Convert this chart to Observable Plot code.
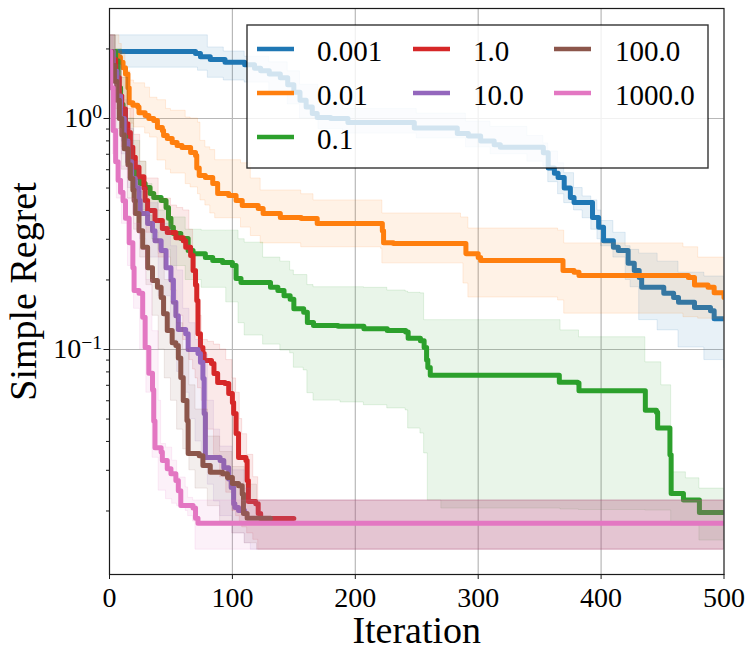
<!DOCTYPE html>
<html><head><meta charset="utf-8">
<script src="https://cdn.jsdelivr.net/npm/d3@7"></script>
<script src="https://cdn.jsdelivr.net/npm/@observablehq/plot@0.6"></script>
<style>body{margin:0;background:#fff}#chart{width:753px;height:658px;position:relative}#chart svg text{font-family:'Liberation Serif','DejaVu Serif',serif}</style>
</head><body><div id="chart"></div>
<script>
// ---- data: [iteration, median simple regret] (step changes) ----
const s0001 = [[0,1.95],[70,1.91],[74,1.85],[82,1.80],[94,1.75],[110,1.71],[118,1.65],[123,1.61],[130,1.56],[139,1.50],[145,1.40],[150,1.30],[155,1.20],[160,1.12],[165,1.05],[169,1.01],[180,1.00],[194,0.96],[248,0.91],[283,0.86],[292,0.84],[302,0.80],[313,0.77],[318,0.75],[353,0.71],[357,0.61],[362,0.58],[365,0.555],[370,0.50],[375,0.455],[378,0.433],[393,0.373],[398,0.338],[402,0.296],[410,0.277],[414,0.268],[422,0.236],[427,0.22],[431,0.205],[433,0.186],[451,0.175],[459,0.168],[463,0.16],[476,0.152],[489,0.147],[492,0.136],[500,0.136]];
const s001 = [[0,1.95],[5,1.88],[7,1.84],[9,1.75],[11,1.66],[13,1.56],[15,1.36],[16,1.17],[19,1.14],[23,1.12],[24,1.06],[29,1.03],[32,1.00],[36,0.98],[39,0.914],[43,0.887],[44,0.844],[47,0.819],[51,0.787],[55,0.764],[59,0.749],[66,0.713],[70,0.691],[71,0.61],[73,0.566],[78,0.555],[84,0.523],[88,0.473],[97,0.464],[103,0.442],[108,0.42],[121,0.408],[125,0.388],[139,0.373],[156,0.369],[169,0.351],[222,0.327],[223,0.29],[231,0.288],[290,0.26],[300,0.25],[302,0.243],[369,0.22],[378,0.216],[382,0.209],[471,0.205],[476,0.19],[487,0.186],[492,0.176],[500,0.168]];
const s01 = [[0,1.95],[5,1.78],[7,1.36],[9,1.15],[11,0.98],[13,0.86],[15,0.75],[17,0.68],[19,0.614],[21,0.555],[25,0.523],[29,0.503],[33,0.473],[36,0.455],[42,0.442],[46,0.412],[48,0.37],[50,0.338],[52,0.318],[58,0.302],[64,0.268],[68,0.26],[78,0.25],[84,0.243],[92,0.238],[100,0.231],[103,0.203],[107,0.195],[131,0.186],[137,0.18],[142,0.171],[147,0.165],[150,0.150],[158,0.145],[161,0.131],[166,0.127],[186,0.126],[207,0.123],[226,0.121],[241,0.119],[243,0.112],[253,0.109],[256,0.102],[258,0.09],[259,0.0835],[261,0.0774],[365,0.0774],[366,0.0722],[381,0.0716],[382,0.0663],[435,0.0663],[436,0.0546],[445,0.0535],[446,0.0457],[455,0.0457],[456,0.035],[457,0.0238],[467,0.0223],[480,0.0197],[500,0.0197]];
const s1 = [[0,1.95],[2,1.8],[5,1.5],[8,1.25],[10,1.1],[13,0.95],[15,0.87],[17,0.75],[19,0.68],[21,0.615],[24,0.56],[28,0.5],[29,0.442],[31,0.40],[37,0.362],[43,0.334],[47,0.321],[54,0.305],[60,0.296],[62,0.277],[66,0.255],[68,0.22],[70,0.19],[71,0.163],[72,0.117],[74,0.102],[76,0.0963],[77,0.0897],[83,0.087],[85,0.0787],[88,0.072],[94,0.0713],[97,0.0645],[100,0.059],[101,0.0528],[103,0.0433],[105,0.0341],[111,0.0331],[112,0.0271],[113,0.022],[119,0.0215],[121,0.0195],[123,0.01855],[150,0.01855]];
const s10 = [[0,1.95],[3,1.6],[6,1.25],[9,1.0],[12,0.8],[15,0.65],[18,0.55],[21,0.5],[24,0.442],[25,0.388],[31,0.351],[35,0.327],[37,0.296],[42,0.268],[46,0.226],[50,0.2],[52,0.16],[54,0.14],[56,0.122],[62,0.117],[64,0.1],[72,0.096],[74,0.088],[76,0.075],[77,0.0528],[78,0.0341],[90,0.0331],[93,0.0308],[97,0.0275],[99,0.0253],[101,0.0215],[102,0.0207],[105,0.0201],[110,0.0201]];
const s100 = [[0,1.95],[2,1.7],[4,1.45],[6,1.2],[8,1.0],[10,0.85],[12,0.74],[15,0.63],[17,0.55],[19,0.49],[20,0.442],[21,0.388],[24,0.327],[27,0.277],[31,0.226],[35,0.199],[39,0.186],[42,0.168],[44,0.143],[47,0.121],[51,0.107],[54,0.104],[56,0.092],[58,0.0756],[60,0.0601],[63,0.0493],[64,0.0355],[73,0.0347],[76,0.0315],[82,0.0294],[92,0.029],[96,0.0279],[100,0.0263],[105,0.0257],[108,0.0237],[109,0.0195],[112,0.0186],[131,0.0186]];
const s1000 = [[0,1.95],[1,1.36],[3,0.887],[5,0.65],[7,0.54],[9,0.48],[11,0.44],[13,0.37],[16,0.29],[19,0.226],[20,0.18],[24,0.175],[27,0.138],[29,0.102],[32,0.079],[35,0.067],[36,0.049],[37,0.0376],[42,0.036],[43,0.0331],[47,0.0305],[50,0.029],[54,0.0271],[56,0.0245],[58,0.0211],[68,0.0206],[70,0.0186],[72,0.0177],[500,0.0177]];

// ---- bands: [iteration, lower, upper] ----
const b0001 = [[0,1.66,2.29],[72,1.61,2.29],[80,1.50,2.03],[93,1.46,1.95],[110,1.43,1.85],[130,1.30,1.75],[145,1.15,1.6],[155,1.0,1.4],[170,0.9,1.15],[190,0.86,1.1],[250,0.82,1.05],[290,0.75,0.97],[310,0.7,0.92],[340,0.65,0.84],[353,0.62,0.78],[357,0.53,0.72],[365,0.47,0.64],[370,0.43,0.58],[378,0.40,0.50],[385,0.37,0.46],[392,0.33,0.442],[397,0.30,0.40],[400,0.28,0.36],[410,0.25,0.32],[420,0.20,0.28],[424,0.186,0.27],[431,0.134,0.26],[446,0.121,0.24],[463,0.102,0.215],[484,0.09,0.207],[500,0.083,0.205]];
const b001 = [[0,1.7,2.29],[6,1.6,2.29],[8,1.45,2.1],[10,1.25,1.91],[13,1.1,1.6],[17,0.95,1.46],[20,0.914,1.42],[29,0.86,1.36],[33,0.827,1.23],[39,0.658,1.2],[46,0.6,1.10],[50,0.578,1.08],[62,0.52,1.01],[66,0.503,1.0],[72,0.47,0.96],[74,0.442,0.80],[78,0.42,0.75],[82,0.388,0.73],[86,0.37,0.66],[107,0.337,0.64],[115,0.31,0.55],[123,0.288,0.488],[156,0.277,0.47],[166,0.277,0.442],[221,0.273,0.442],[222,0.236,0.388],[286,0.236,0.373],[288,0.193,0.373],[292,0.168,0.334],[365,0.163,0.327],[370,0.143,0.288],[467,0.138,0.277],[479,0.136,0.25],[500,0.134,0.226]];
const b01 = [[0,1.7,2.29],[5,1.2,2.0],[10,0.8,1.5],[15,0.6,1.0],[20,0.48,0.8],[25,0.4,0.65],[30,0.35,0.52],[35,0.3,0.45],[40,0.27,0.40],[50,0.23,0.373],[62,0.2,0.33],[75,0.185,0.327],[95,0.16,0.327],[105,0.13,0.30],[110,0.115,0.29],[125,0.105,0.25],[139,0.099,0.24],[147,0.0963,0.22],[150,0.0834,0.21],[158,0.0812,0.21],[161,0.0647,0.19],[166,0.0601,0.186],[188,0.059,0.186],[207,0.0574,0.185],[226,0.0556,0.18],[241,0.0545,0.178],[243,0.0455,0.176],[253,0.0433,0.175],[256,0.0355,0.134],[259,0.0222,0.134],[270,0.0205,0.134],[367,0.0203,0.121],[382,0.0202,0.113],[436,0.0201,0.088],[449,0.0201,0.070],[457,0.0173,0.0294],[469,0.0173,0.0277],[480,0.0149,0.025],[500,0.0149,0.025]];
const b1 = [[0,1.7,2.29],[5,1.1,1.95],[10,0.75,1.5],[15,0.55,1.1],[20,0.45,0.85],[25,0.38,0.65],[30,0.32,0.55],[40,0.25,0.45],[50,0.18,0.42],[55,0.14,0.41],[60,0.11,0.40],[65,0.09,0.33],[68,0.082,0.26],[70,0.075,0.2],[72,0.068,0.14],[75,0.06,0.11],[80,0.045,0.108],[85,0.035,0.105],[90,0.028,0.1],[95,0.024,0.09],[100,0.02,0.075],[103,0.019,0.065],[106,0.018,0.05],[108,0.017,0.043],[112,0.016,0.035],[117,0.015,0.028],[121,0.0136,0.0222],[500,0.0136,0.0222]];
const b10 = [[0,1.7,2.29],[5,1.0,1.7],[10,0.7,1.2],[15,0.5,0.9],[20,0.4,0.65],[25,0.3,0.5],[30,0.25,0.43],[40,0.17,0.35],[50,0.11,0.28],[55,0.08,0.22],[60,0.065,0.15],[65,0.05,0.13],[70,0.04,0.11],[75,0.032,0.095],[80,0.026,0.06],[85,0.022,0.045],[90,0.019,0.038],[100,0.016,0.03],[110,0.0145,0.025],[115,0.0136,0.0222],[500,0.0136,0.0222]];
const b100 = [[0,1.7,2.29],[5,0.9,1.6],[10,0.6,1.1],[15,0.45,0.8],[20,0.33,0.6],[25,0.25,0.48],[30,0.19,0.38],[35,0.14,0.3],[40,0.1,0.26],[45,0.075,0.2],[50,0.06,0.16],[55,0.045,0.13],[60,0.037,0.1],[65,0.03,0.07],[70,0.025,0.055],[80,0.021,0.042],[90,0.018,0.036],[100,0.016,0.031],[110,0.0145,0.026],[120,0.0136,0.0222],[500,0.0136,0.0222]];
const b1000 = [[0,1.7,2.29],[3,0.7,1.4],[6,0.45,0.9],[10,0.35,0.62],[15,0.23,0.45],[20,0.15,0.35],[25,0.1,0.27],[30,0.065,0.2],[35,0.034,0.12],[40,0.0245,0.06],[42,0.0245,0.039],[46,0.0225,0.0376],[51,0.0215,0.033],[55,0.021,0.0279],[62,0.02,0.0253],[64,0.019,0.0228],[68,0.018,0.0222],[70,0.0136,0.0222],[500,0.0136,0.0222]];

const names = ["0.001","0.01","0.1","1.0","10.0","100.0","1000.0"];
const colors = ["#1f77b4","#ff7f0e","#2ca02c","#d62728","#9467bd","#8c564b","#e377c2"];
const medians = [s0001, s001, s01, s1, s10, s100, s1000];
const bands = [b0001, b001, b01, b1, b10, b100, b1000];

const xTicks = [0,100,200,300,400,500];
const xGrid = [100,200,300,400];
const yMajor = [0.1, 1];
const yMinor = [0.02,0.03,0.04,0.05,0.06,0.07,0.08,0.09,0.2,0.3,0.4,0.5,0.6,0.7,0.8,0.9,2];
const xLabel = ["Iteration"];
const yLabel = ["Simple Regret"];

const FONT = "Liberation Serif";

const marks = [
  Plot.gridX(xGrid, {stroke: "#b8b8b8", strokeOpacity: 1, strokeWidth: 1.2}),
  Plot.gridY(yMajor, {stroke: "#b8b8b8", strokeOpacity: 1, strokeWidth: 1.2})
];
medians.forEach((m, i) => {
  marks.push(Plot.areaY(bands[i], {x: d => d[0], y1: d => d[1], y2: d => d[2], curve: "step-after",
    fill: colors[i], fillOpacity: 0.1, stroke: colors[i], strokeOpacity: 0.12, strokeWidth: 1, clip: true}));
  marks.push(Plot.line(m, {x: d => d[0], y: d => d[1], curve: "step-after",
    stroke: colors[i], strokeWidth: 5, strokeLinejoin: "round", clip: true}));
});
marks.push(
  Plot.frame({stroke: "#1a1a1a", strokeWidth: 1.2}),
  Plot.axisX(xTicks, {anchor: "bottom", tickSize: 5, tickPadding: 8, fontSize: 28, fontFamily: FONT, label: null, stroke: "#1a1a1a"}),
  Plot.axisY(yMajor, {anchor: "left", tickSize: 5.5, tickPadding: 2, fontSize: 28, fontFamily: FONT, label: null, stroke: "#1a1a1a",
    tickFormat: d => { const e = Math.round(Math.log10(d)); return e < 0 ? "\u2212" + (-e) : String(e); }}),
  Plot.axisY(yMinor, {anchor: "left", tickSize: 3, tickFormat: () => "", label: null, stroke: "#1a1a1a"}),
  Plot.text(xLabel, {text: d => d, frameAnchor: "bottom", dy: 68, lineAnchor: "bottom", fontSize: 38, fontFamily: FONT}),
  Plot.text(yLabel, {text: d => d, frameAnchor: "left", dx: -74, rotate: -90, lineAnchor: "bottom", textAnchor: "middle", fontSize: 38, fontFamily: FONT})
);

const svg = Plot.plot({
  width: 753, height: 658,
  marginLeft: 109, marginRight: 29.5, marginTop: 8, marginBottom: 84,
  x: {domain: [0, 500]},
  y: {type: "log", domain: [0.01062, 2.993]},
  style: {fontFamily: FONT, color: "#000", background: "#fff", overflow: "visible"},
  marks
});

// superscript exponents on y tick labels
const NS = "http://www.w3.org/2000/svg";
svg.querySelectorAll('g[aria-label="y-axis tick label"] text').forEach(t => {
  const e = t.textContent;
  if (!e) return;
  t.textContent = "";
  const base = document.createElementNS(NS, "tspan"); base.textContent = "10";
  const sup = document.createElementNS(NS, "tspan");
  sup.setAttribute("dy", "-0.5em"); sup.setAttribute("font-size", "0.7em"); sup.textContent = e;
  t.appendChild(base); t.appendChild(sup);
});

// legend (3 columns, column-major like matplotlib)
const lg = d3.select(svg).append("g").attr("font-family", FONT).attr("text-anchor", "start");
lg.append("rect").attr("x", 247).attr("y", 25).attr("width", 461).attr("height", 143)
  .attr("fill", "#fff").attr("fill-opacity", 0.8).attr("stroke", "#000").attr("stroke-opacity", 0.8).attr("stroke-width", 1.4);
const colX = [257, 413, 554], textX = [317, 473, 615], rowY = [49, 93, 137];
const perCol = [3, 2, 2];
let k = 0;
perCol.forEach((n, c) => {
  for (let r = 0; r < n; r++, k++) {
    lg.append("line").attr("x1", colX[c]).attr("x2", colX[c] + 37).attr("y1", rowY[r]).attr("y2", rowY[r])
      .attr("stroke", colors[k]).attr("stroke-width", 4.5);
    lg.append("text").attr("x", textX[c]).attr("y", rowY[r] + 11.5).attr("font-size", 29)
      .attr("text-anchor", "start").attr("fill", "#000").text(names[k]);
  }
});

document.getElementById("chart").appendChild(svg);
</script></body></html>
